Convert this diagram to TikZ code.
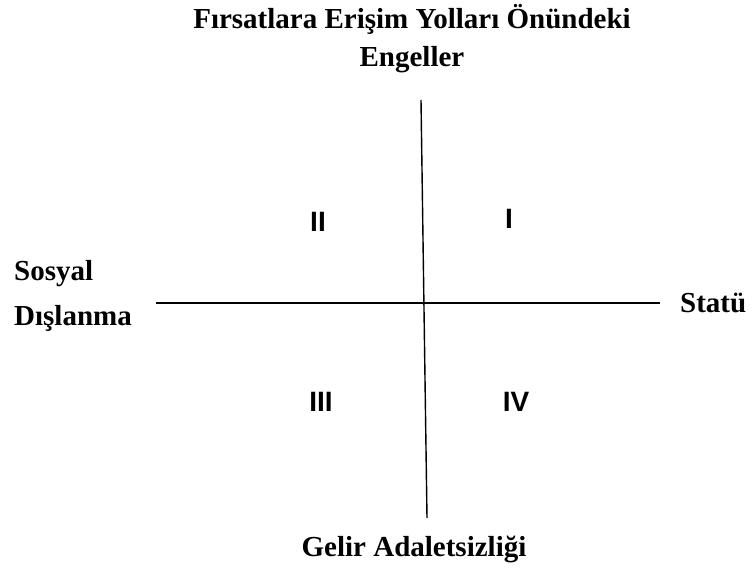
\documentclass[tikz,border=0pt]{standalone}
\usepackage{fontspec}
\setmainfont{Liberation Serif}
\newfontfamily\numfont{Liberation Sans}
\usepackage{tikz}
\usetikzlibrary{positioning}
\tikzset{
  axlab/.style={font=\fontsize{29}{38}\selectfont\bfseries, align=center, inner sep=0pt},
  sidelab/.style={font=\fontsize{29}{45}\selectfont\bfseries, align=left, inner sep=0pt},
  quad/.style={font=\numfont\fontsize{28}{30}\selectfont\bfseries, inner sep=0pt},
  axis/.style={line width=1.4pt},
}

\begin{document}
\begin{tikzpicture}[x=1pt,y=-1pt]
        \useasboundingbox (0,0) rectangle (752,572);
        \node[axlab]   (T) at (412,39)  {Fırsatlara Erişim Yolları Önündeki\\Engeller};
        \node[sidelab,anchor=west] (L) at (14,296)  {Sosyal\\Dışlanma};
        \node[axlab,anchor=west] (R) at (680,303) {Statü};
        \node[axlab]   (B) at (414,549) {Gelir Adaletsizliği};
        \node[quad]    (Q1) at (509,219) {I};
        \node[quad]    (Q2) at (318,222) {II};
        \node[quad]    (Q3) at (321,402) {III};
        \node[quad]    (Q4) at (516,402) {IV};
        \coordinate (top) at (421,100);
        \coordinate (bot) at (427,518);
        \coordinate (lft) at (156,303);
        \coordinate (rgt) at (660,303);
        \draw[axis] (top) -- (bot);
        \draw[axis] (lft) -- (rgt);
      \end{tikzpicture}
\end{document}
